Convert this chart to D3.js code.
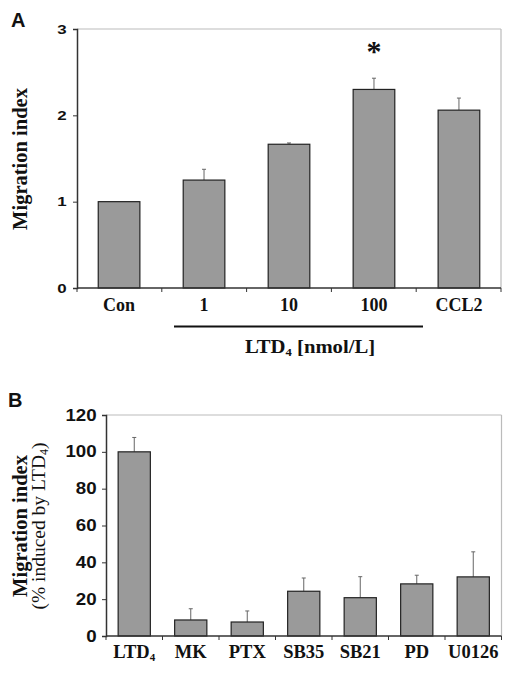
<!DOCTYPE html>
<html><head><meta charset="utf-8">
<script src="https://cdn.jsdelivr.net/npm/d3@7"></script>
<style>body{margin:0;background:#fff;} svg{display:block;}</style>
</head><body>
<svg id="chart" width="512" height="673"></svg>
<script>
// Panel A data
const catsA = ["Con", "1", "10", "100", "CCL2"];
const valsA = [1.0, 1.25, 1.665, 2.30, 2.06];
const errsA = [0.0, 0.125, 0.015, 0.13, 0.14];
const ticksA = [0, 1, 2, 3];
// Panel B data
const catsB = ["LTD4", "MK", "PTX", "SB35", "SB21", "PD", "U0126"];
const valsB = [100, 8.7, 7.6, 24.3, 20.8, 28.3, 32.1];
const errsB = [7.8, 6.1, 6.0, 7.2, 11.4, 4.7, 13.6];
const ticksB = [0, 20, 40, 60, 80, 100, 120];

const svg = d3.select("#chart");
const serif = "'Liberation Serif','Times New Roman',serif";
const sans = "'Liberation Sans',Arial,sans-serif";
const barFill = "#9a9a9a";

function panel(cfg) {
  const {cats, vals, errs, ticks, left, right, top, bottom, ymax, pin, pout, tickFont, tickScale} = cfg;
  const x = d3.scaleBand().domain(cats).range([left, right]).paddingInner(pin).paddingOuter(pout);
  const y = d3.scaleLinear().domain([0, ymax]).range([bottom, top]);
  const g = svg.append("g");
  // frame top/right
  g.append("line").attr("x1", left).attr("x2", right).attr("y1", top).attr("y2", top).attr("stroke", "#bbb").attr("stroke-width", 1);
  g.append("line").attr("x1", right).attr("x2", right).attr("y1", top).attr("y2", bottom).attr("stroke", "#bbb").attr("stroke-width", 1.2);
  // error bars
  const data = cats.map((c, i) => ({c, v: vals[i], e: errs[i]}));
  const eb = g.append("g").attr("stroke", "#666").attr("stroke-width", 1);
  data.filter(d => d.e > 0).forEach(d => {
    const cx = x(d.c) + x.bandwidth() / 2;
    eb.append("line").attr("x1", cx).attr("x2", cx).attr("y1", y(d.v)).attr("y2", y(d.v + d.e));
    eb.append("line").attr("x1", cx - 2).attr("x2", cx + 2).attr("y1", y(d.v + d.e)).attr("y2", y(d.v + d.e));
  });
  // bars
  g.append("g").selectAll("rect").data(data).join("rect")
    .attr("x", d => x(d.c)).attr("width", x.bandwidth())
    .attr("y", d => y(d.v)).attr("height", d => y(0) - y(d.v))
    .attr("fill", barFill).attr("stroke", "#222").attr("stroke-width", 1.2);
  // y axis
  const ya = g.append("g").attr("transform", `translate(${left},0)`)
    .call(d3.axisLeft(y).tickValues(ticks).tickSize(4).tickPadding(4).tickFormat(d3.format("d")));
  ya.select(".domain").attr("stroke", "#333").attr("stroke-width", 1.5);
  ya.selectAll(".tick line").attr("stroke", "#333");
  ya.selectAll("text").attr("font-family", sans).attr("font-weight", "bold").attr("font-size", tickFont)
    .attr("fill", "#111").attr("transform", `scale(${tickScale},1)`);
  // x axis
  const xa = g.append("g").attr("transform", `translate(0,${bottom})`);
  xa.append("line").attr("x1", left).attr("x2", right).attr("y1", 0).attr("y2", 0).attr("stroke", "#333").attr("stroke-width", 1.5);
  const bounds = d3.range(cats.length + 1).map(i => left + i * (right - left) / cats.length);
  xa.selectAll("line.t").data(bounds).join("line").attr("class", "t")
    .attr("x1", d => d).attr("x2", d => d).attr("y1", 0).attr("y2", 4).attr("stroke", "#333");
  return {x, y, g};
}

// ---------- Panel A ----------
const A = panel({cats: catsA, vals: valsA, errs: errsA, ticks: ticksA, left: 77, right: 501, top: 29, bottom: 288, ymax: 3, pin: 0.51, pout: 0.25, tickFont: 13, tickScale: 1.3});
A.g.append("g").selectAll("text").data(catsA).join("text")
  .attr("x", d => A.x(d) + A.x.bandwidth() / 2).attr("y", 311)
  .attr("text-anchor", "middle").attr("font-family", serif).attr("font-weight", "bold").attr("font-size", 18)
  .attr("fill", "#111").text(d => d);
// significance star
A.g.append("text").attr("x", A.x("100") + A.x.bandwidth() / 2).attr("y", 61)
  .attr("text-anchor", "middle").attr("font-family", serif).attr("font-weight", "bold").attr("font-size", 30).attr("fill", "#111").text("*");
// group line and label
A.g.append("line").attr("x1", 174).attr("x2", 423).attr("y1", 326.5).attr("y2", 326.5).attr("stroke", "#111").attr("stroke-width", 2);
const ltdA = A.g.append("text").attr("transform", "translate(310,353) scale(1.15,1)").attr("text-anchor", "middle")
  .attr("font-family", serif).attr("font-weight", "bold").attr("font-size", 18).attr("fill", "#111");
ltdA.append("tspan").text("LTD");
ltdA.append("tspan").attr("font-size", 11).attr("dy", 3).text("4");
ltdA.append("tspan").attr("dy", -3).text(" [nmol/L]");
// y title
svg.append("text").attr("transform", "translate(27,159) rotate(-90)").attr("text-anchor", "middle")
  .attr("font-family", serif).attr("font-weight", "bold").attr("font-size", 20.5).attr("fill", "#111").text("Migration index");
svg.append("text").attr("x", 11).attr("y", 27).attr("font-family", sans).attr("font-weight", "bold").attr("font-size", 20).attr("fill", "#111").text("A");

// ---------- Panel B ----------
const B = panel({cats: catsB, vals: valsB, errs: errsB, ticks: ticksB, left: 106, right: 501.5, top: 415, bottom: 636, ymax: 120, pin: 0.43, pout: 0.215, tickFont: 16, tickScale: 1.17});
const xl = B.g.append("g").selectAll("text").data(catsB).join("text")
  .attr("x", d => B.x(d) + B.x.bandwidth() / 2).attr("y", 658)
  .attr("text-anchor", "middle").attr("font-family", serif).attr("font-weight", "bold").attr("font-size", 18.5)
  .attr("fill", "#111");
xl.each(function(d) {
  const t = d3.select(this);
  if (d === "LTD4") {
    t.append("tspan").text("LTD");
    t.append("tspan").attr("font-size", 11).attr("dy", 3).text("4");
  } else t.text(d);
});
svg.append("text").attr("transform", "translate(27,526) rotate(-90)").attr("text-anchor", "middle")
  .attr("font-family", serif).attr("font-weight", "bold").attr("font-size", 20.5).attr("fill", "#111").text("Migration index");
const sub = svg.append("text").attr("transform", "translate(45,526) rotate(-90)").attr("text-anchor", "middle")
  .attr("font-family", serif).attr("font-size", 19.5).attr("fill", "#111");
sub.append("tspan").text("(% induced by LTD");
sub.append("tspan").attr("font-size", 12).attr("dy", 3).text("4");
sub.append("tspan").attr("dy", -3).text(")");
svg.append("text").attr("x", 8).attr("y", 407).attr("font-family", sans).attr("font-weight", "bold").attr("font-size", 20).attr("fill", "#111").text("B");
</script>
</body></html>
